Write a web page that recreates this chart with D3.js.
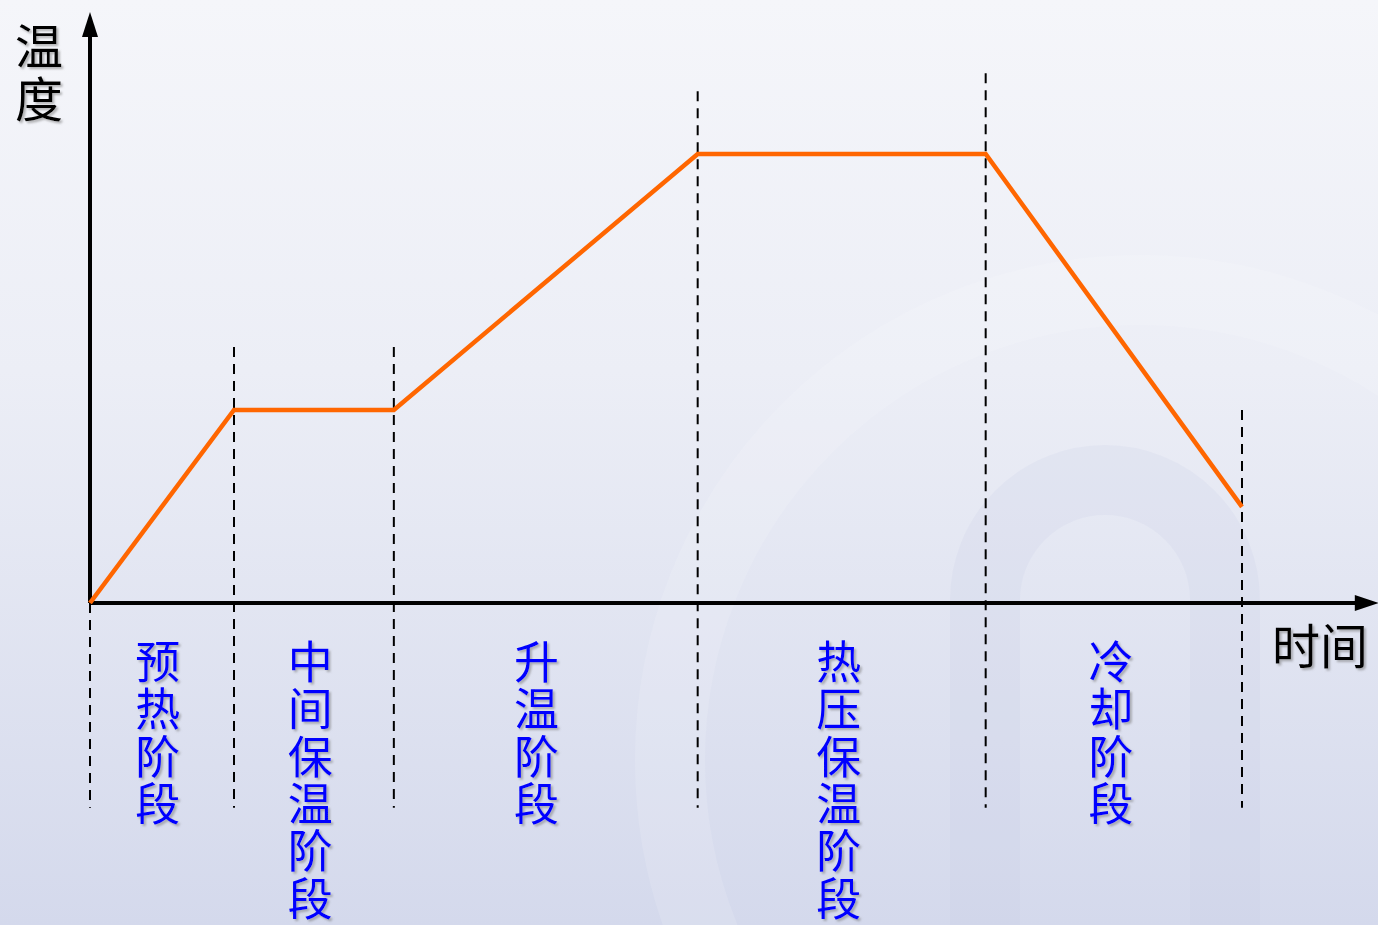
<!DOCTYPE html>
<html>
<head>
<meta charset="utf-8">
<script src="https://cdn.jsdelivr.net/npm/d3@7/dist/d3.min.js"></script>
<style>
  html, body { margin: 0; padding: 0; overflow: hidden; }
  svg { display: block; }
  text { font-family: "Noto Sans CJK SC", "Noto Sans", sans-serif; }
</style>
</head>
<body>
<svg id="chart" width="1378" height="925"></svg>
<script>
// Process curve: time breakpoints (arbitrary units) and temperature (relative %)
const times = [0, 10, 21.1, 42.2, 62.2, 80];
const temps = [0, 43, 43, 100, 100, 21.4];

// Stage names, each sitting between two consecutive breakpoints
const stages = ["预热阶段", "中间保温阶段", "升温阶段", "热压保温阶段", "冷却阶段"];
const stageCenters = [4.7, 15.3, 31.0, 52.0, 70.9];

// Upper end of each boundary guide, in temperature units
const guideTops = [0, 57, 57, 114, 118, 43];
const guideBottom = -45.6;

const axisLabels = { y: "温度", x: "时间" };
const axisMax = { x: 89.5, y: 131.6 };

const W = 1378, H = 925;
const svg = d3.select("#chart");

const x = d3.scaleLinear().domain([0, 80]).range([90, 1242]);
const y = d3.scaleLinear().domain([0, 100]).range([603, 154]);

const defs = svg.append("defs");
const bg = defs.append("linearGradient").attr("id", "bg")
  .attr("x1", 0).attr("y1", 0).attr("x2", 0).attr("y2", 1);
bg.append("stop").attr("offset", "0%").attr("stop-color", "#f5f6fa");
bg.append("stop").attr("offset", "40%").attr("stop-color", "#eceef6");
bg.append("stop").attr("offset", "100%").attr("stop-color", "#d4d9ec");

const shadow = defs.append("filter").attr("id", "shadow")
  .attr("x", "-20%").attr("y", "-20%").attr("width", "140%").attr("height", "140%");
shadow.append("feDropShadow").attr("dx", 2).attr("dy", 2).attr("stdDeviation", 0.8)
  .attr("flood-color", "#777").attr("flood-opacity", 0.55);

svg.append("rect").attr("width", W).attr("height", H).attr("fill", "url(#bg)");

// faint emblem in the background
const mark = svg.append("g").attr("opacity", 0.35);
mark.append("circle").attr("cx", 1140).attr("cy", 760).attr("r", 470)
  .attr("fill", "none").attr("stroke", "#ffffff").attr("stroke-width", 70).attr("opacity", 0.35);
mark.append("path")
  .attr("d", "M985,925 L985,600 A120,120 0 0 1 1225,600 L1225,925")
  .attr("fill", "none").attr("stroke", "#c9cfe6").attr("stroke-width", 70).attr("opacity", 0.6);

// boundary guides
svg.append("g").selectAll("line").data(times).join("line")
  .attr("x1", d => x(d)).attr("x2", d => x(d))
  .attr("y1", (d, i) => y(guideTops[i]))
  .attr("y2", y(guideBottom))
  .attr("stroke", "#000").attr("stroke-width", 2)
  .attr("stroke-dasharray", "10,7");

// axes with arrow heads
const axes = svg.append("g");
axes.append("line").attr("x1", x(0)).attr("x2", x(0))
  .attr("y1", y(0)).attr("y2", y(axisMax.y) + 20)
  .attr("stroke", "#000").attr("stroke-width", 4);
axes.append("path")
  .attr("d", `M${x(0)},${y(axisMax.y)} L${x(0) - 8},${y(axisMax.y) + 25} L${x(0) + 8},${y(axisMax.y) + 25} Z`)
  .attr("fill", "#000");
const xEnd = d3.scaleLinear().domain([0, 80]).range([90, 1242])(axisMax.x);
axes.append("line").attr("x1", x(0)).attr("x2", xEnd - 20)
  .attr("y1", y(0)).attr("y2", y(0))
  .attr("stroke", "#000").attr("stroke-width", 4);
axes.append("path")
  .attr("d", `M${xEnd},${y(0)} L${xEnd - 24},${y(0) - 8} L${xEnd - 24},${y(0) + 8} Z`)
  .attr("fill", "#000");

// temperature curve
const line = d3.line().x(d => x(d[0])).y(d => y(d[1]));
svg.append("path")
  .datum(times.map((t, i) => [t, temps[i]]))
  .attr("d", line)
  .attr("fill", "none").attr("stroke", "#ff6600").attr("stroke-width", 4.5)
  .attr("stroke-linejoin", "miter");

// axis titles
const yTitle = svg.append("text").attr("filter", "url(#shadow)")
  .attr("font-size", 48).attr("fill", "#000").attr("text-anchor", "middle");
yTitle.selectAll("tspan").data(Array.from(axisLabels.y)).join("tspan")
  .attr("x", 39).attr("y", (d, i) => 64 + i * 53).text(d => d);

svg.append("text").attr("filter", "url(#shadow)")
  .attr("x", 1320).attr("y", 664)
  .attr("font-size", 48).attr("fill", "#000").attr("text-anchor", "middle")
  .text(axisLabels.x);

// vertical stage labels
const lab = svg.append("g").attr("filter", "url(#shadow)");
stages.forEach((s, i) => {
  const t = lab.append("text").attr("font-size", 45).attr("fill", "#0000ff")
    .attr("text-anchor", "middle");
  t.selectAll("tspan").data(Array.from(s)).join("tspan")
    .attr("x", x(stageCenters[i]))
    .attr("y", (d, j) => 679 + j * 47.3)
    .text(d => d);
});
</script>
</body>
</html>
